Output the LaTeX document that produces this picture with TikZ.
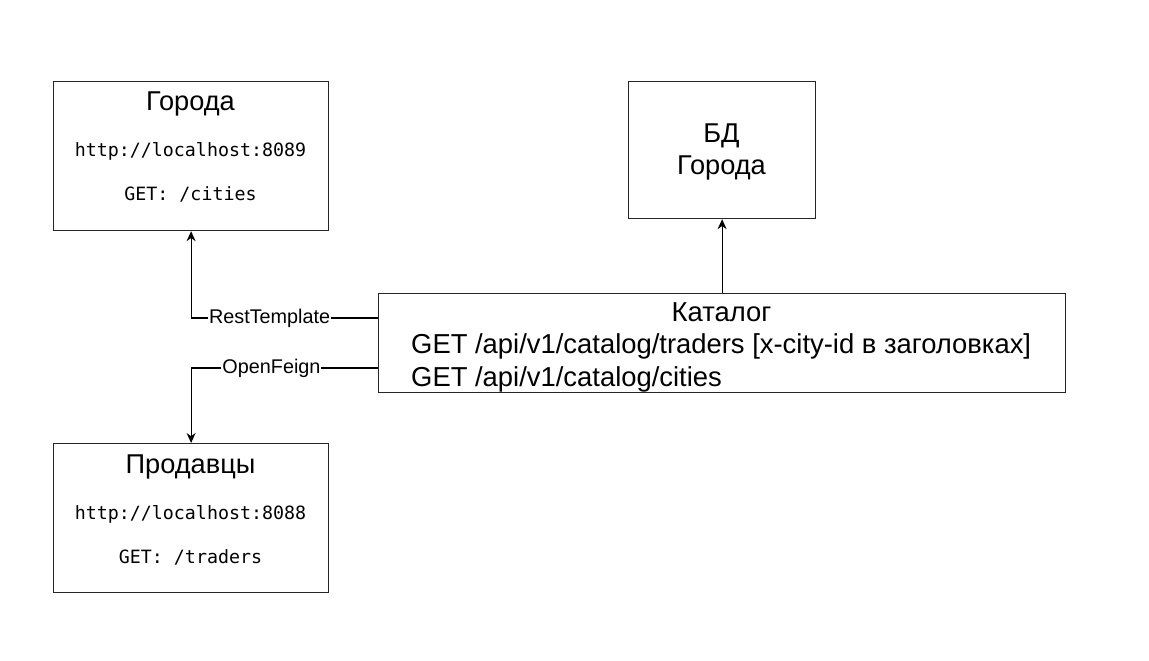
\documentclass[tikz,border=0pt]{standalone}
\usepackage{fontspec}
\setmainfont{Liberation Sans}
\setmonofont{DejaVu Sans Mono}
\usetikzlibrary{arrows.meta}
\begin{document}
\begin{tikzpicture}[x=1pt,y=-1pt,
  box/.style={draw=black!85,line width=1.2pt,inner sep=0pt,anchor=north west},
  title/.style={font=\fontsize{27.2}{31}\selectfont,inner sep=0pt},
  mono/.style={font=\ttfamily\fontsize{18.3}{21}\selectfont,inner sep=0pt},
  cattext/.style={font=\fontsize{27.4}{32}\selectfont,inner sep=0pt},
  lbl/.style={font=\fontsize{19.8}{22}\selectfont,fill=white,inner sep=1pt},
  conn/.style={line width=1.2pt},
  arr/.style={conn,-{Stealth[length=10pt,width=9pt]}}]
\useasboundingbox (0,0) rectangle (1149,661);
% boxes
\node[box,minimum width=275pt,minimum height=149pt] (gor) at (53,81) {};
\node[box,minimum width=187pt,minimum height=137pt] (bd) at (628,81) {};
\node[box,minimum width=687pt,minimum height=99pt] (cat) at (378,293) {};
\node[box,minimum width=275pt,minimum height=149pt] (prod) at (53,443) {};
% texts
\node[title] (gort) at (190.5,104) {Города};
\node[mono] (goru) at (190.5,151) {http://localhost:8089};
\node[mono] (gorg) at (190.5,194) {GET: /cities};
\node[title] (bdt1) at (721.5,136) {БД};
\node[title] (bdt2) at (721.5,168) {Города};
\node[cattext] (catt) at (721.5,312) {Каталог};
\node[cattext,anchor=west] (catl1) at (411,346) {GET /api/v1/catalog/traders [x-city-id в заголовках]};
\node[cattext,anchor=west] (catl2) at (411,379) {GET /api/v1/catalog/cities};
\node[title] (prodt) at (190.5,467) {Продавцы};
\node[mono] (produ) at (190.5,514) {http://localhost:8088};
\node[mono] (prodg) at (190.5,557) {GET: /traders};
% connectors
\coordinate (r1) at (0,318);
\coordinate (r2) at (0,368);
\draw[arr] (cat.west |- r1) -| node[lbl,pos=0.29] {RestTemplate} (gor.south);
\draw[arr] (cat.west |- r2) -| node[lbl,pos=0.285] {OpenFeign} (prod.north);
\draw[arr] (cat.north) -- (bd.south);
\end{tikzpicture}
\end{document}
